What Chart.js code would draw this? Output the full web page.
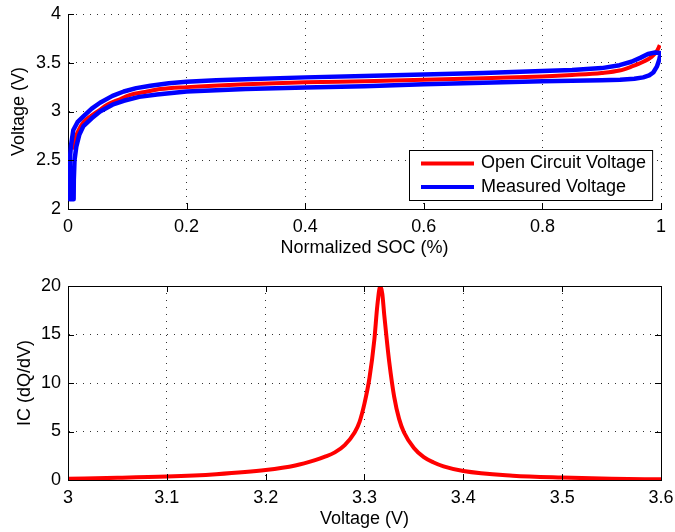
<!DOCTYPE html>
<html>
<head>
<meta charset="utf-8">
<script src="https://cdn.jsdelivr.net/npm/chart.js@4/dist/chart.umd.min.js"></script>
<style>
  body { margin: 0; background: #fff; }
  .box { position: absolute; left: 0; width: 675px; }
</style>
</head>
<body>
<div class="box" style="top:0;height:260px"><canvas id="socChart" width="675" height="260"></canvas></div>
<div class="box" style="top:260px;height:272px"><canvas id="icChart" width="675" height="272"></canvas></div>
<script>
// top plot: OCV and measured voltage vs normalized SOC
const ocvSoc  = [0.008, 0.012, 0.018, 0.026, 0.038, 0.052, 0.066, 0.085, 0.105, 0.13, 0.156, 0.2, 0.3, 0.4, 0.5, 0.6, 0.7, 0.8, 0.85, 0.9, 0.93, 0.95, 0.97, 0.984, 0.993, 0.998];
const ocvVolt = [2.61, 2.72, 2.81, 2.89, 2.95, 3.01, 3.07, 3.12, 3.17, 3.20, 3.23, 3.25, 3.28, 3.30, 3.31, 3.325, 3.34, 3.36, 3.375, 3.395, 3.42, 3.46, 3.51, 3.56, 3.62, 3.68];

// measured voltage loop: upper branch left->right, then lower branch right->left
const measSoc  = [0.003, 0.003, 0.005, 0.009, 0.016, 0.026, 0.04, 0.054, 0.075, 0.094, 0.115, 0.139, 0.17, 0.2, 0.25, 0.3, 0.4, 0.5, 0.6, 0.7, 0.8, 0.85, 0.9, 0.93, 0.95, 0.965, 0.978, 0.99, 0.998,
                  0.999, 0.997, 0.993, 0.987, 0.98, 0.97, 0.955, 0.931, 0.9, 0.8, 0.7, 0.6, 0.5, 0.4, 0.3, 0.2, 0.15, 0.12, 0.094, 0.075, 0.054, 0.04, 0.026, 0.019, 0.014, 0.011, 0.0098, 0.0095, 0.003];
const measVolt = [2.1, 2.5, 2.65, 2.81, 2.89, 2.95, 3.03, 3.09, 3.16, 3.205, 3.24, 3.265, 3.29, 3.305, 3.32, 3.33, 3.35, 3.365, 3.38, 3.395, 3.415, 3.425, 3.445, 3.475, 3.51, 3.55, 3.59, 3.605, 3.6,
                  3.59, 3.53, 3.46, 3.40, 3.37, 3.35, 3.335, 3.325, 3.32, 3.31, 3.295, 3.28, 3.26, 3.245, 3.23, 3.205, 3.175, 3.15, 3.11, 3.07, 3.0, 2.93, 2.85, 2.76, 2.64, 2.5, 2.3, 2.1, 2.1];

// bottom plot: incremental capacity
const icVolt = [3.0, 3.05, 3.1, 3.15, 3.2, 3.23, 3.25, 3.26, 3.27, 3.28, 3.29, 3.295, 3.3, 3.305, 3.31, 3.313, 3.316, 3.318, 3.32, 3.3225, 3.325, 3.33, 3.335, 3.34, 3.35, 3.36, 3.37, 3.38, 3.4, 3.45, 3.5, 3.55, 3.6];
const icVal  = [0.14, 0.22, 0.35, 0.6, 1.03, 1.5, 2.05, 2.4, 2.85, 3.6, 4.9, 6.0, 7.9, 10.5, 14.5, 18.0, 20, 19.2, 17, 14.5, 12.2, 8.6, 6.3, 4.9, 3.3, 2.35, 1.8, 1.4, 0.92, 0.45, 0.25, 0.13, 0.07];

const socTicks  = [0, 0.2, 0.4, 0.6, 0.8, 1];
const voltTicks = [2, 2.5, 3, 3.5, 4];
const icXTicks  = [3, 3.1, 3.2, 3.3, 3.4, 3.5, 3.6];
const icYTicks  = [0, 5, 10, 15, 20];

Chart.defaults.font.family = '"Liberation Sans", Arial, Helvetica, sans-serif';
Chart.defaults.font.size = 18;
Chart.defaults.color = '#000';

const pts = (xs, ys) => xs.map((x, i) => ({ x: x, y: ys[i] }));

// inward tick marks (and optional box) like matlab axes
const frame = {
  id: 'frame',
  afterDatasetsDraw(chart, args, opts) {
    const { ctx, chartArea: a } = chart;
    const sx = chart.scales.x, sy = chart.scales.y;
    ctx.save();
    ctx.strokeStyle = '#000';
    ctx.lineWidth = 1;
    ctx.beginPath();
    sx.ticks.forEach(t => {
      const p = Math.round(sx.getPixelForValue(t.value)) + 0.5;
      ctx.moveTo(p, a.bottom); ctx.lineTo(p, a.bottom - 6);
      if (opts.box) { ctx.moveTo(p, a.top); ctx.lineTo(p, a.top + 6); }
    });
    sy.ticks.forEach(t => {
      const p = Math.round(sy.getPixelForValue(t.value)) + 0.5;
      ctx.moveTo(a.left, p); ctx.lineTo(a.left + 6, p);
      if (opts.box) { ctx.moveTo(a.right, p); ctx.lineTo(a.right - 6, p); }
    });
    ctx.stroke();
    if (opts.box) {
      ctx.strokeRect(Math.round(a.left) + 0.5, Math.round(a.top) + 0.5, Math.round(a.right - a.left), Math.round(a.bottom - a.top));
    }
    ctx.restore();
  }
};

// legend box in the lower right corner of the plot
const cornerLegend = {
  id: 'cornerLegend',
  afterDraw(chart, args, opts) {
    if (!opts.show) return;
    const { ctx, chartArea: a } = chart;
    const sets = chart.data.datasets;
    ctx.save();
    ctx.font = '18px ' + Chart.defaults.font.family;
    const tw = Math.max(...sets.map(d => ctx.measureText(d.label).width));
    const w = 72 + tw + 6, h = 50;
    const left = Math.round(a.right - 9 - w), top = Math.round(a.bottom - 9 - h);
    ctx.fillStyle = '#fff';
    ctx.fillRect(left, top, w, h);
    ctx.strokeStyle = '#000';
    ctx.lineWidth = 1;
    ctx.strokeRect(left + 0.5, top + 0.5, w, h);
    sets.forEach((d, i) => {
      const yy = top + 13.5 + i * 23.5;
      ctx.strokeStyle = d.borderColor;
      ctx.lineWidth = 4;
      ctx.beginPath();
      ctx.moveTo(left + 12, yy); ctx.lineTo(left + 65, yy);
      ctx.stroke();
      ctx.fillStyle = '#000';
      ctx.textBaseline = 'middle';
      ctx.fillText(d.label, left + 72, yy);
    });
    ctx.restore();
  }
};

// drop chart.js' extra room for the end tick labels so the plot box keeps its size
function noLabelRoom(s) {
  s.paddingLeft = 0; s.paddingRight = 0; s.paddingTop = 0; s.paddingBottom = 0;
}

function axis(min, max, tickList, title, titlePad, size) {
  return {
    type: 'linear',
    min: min,
    max: max,
    afterBuildTicks: s => { s.ticks = tickList.map(v => ({ value: v })); },
    afterFit: s => {
      noLabelRoom(s);
      if (s.isHorizontal()) s.height = size; else s.width = size;
    },
    ticks: { callback: v => String(v), padding: 7, autoSkip: false, maxRotation: 0 },
    grid: { color: '#333', lineWidth: 1, drawTicks: false },
    border: { display: true, color: '#000', width: 1, dash: [1, 6] },
    title: { display: true, text: title, padding: titlePad, font: { size: 18 } }
  };
}

new Chart(document.getElementById('socChart'), {
  type: 'scatter',
  data: {
    datasets: [
      { label: 'Open Circuit Voltage', data: pts(ocvSoc, ocvVolt), showLine: true, borderColor: '#ff0000', borderWidth: 4,
        pointRadius: 0, cubicInterpolationMode: 'monotone', order: 1 },
      { label: 'Measured Voltage', data: pts(measSoc, measVolt), showLine: true, borderColor: '#0000ff', borderWidth: 4.5,
        pointRadius: 0, tension: 0, borderJoinStyle: 'round', borderCapStyle: 'round', order: 0 }
    ]
  },
  options: {
    responsive: false,
    devicePixelRatio: 1,
    animation: false,
    layout: { padding: { left: 0, top: 14, right: 14, bottom: 0 } },
    plugins: { legend: { display: false }, tooltip: { enabled: false }, frame: { box: false }, cornerLegend: { show: true } },
    scales: {
      x: axis(0, 1, socTicks, 'Normalized SOC (%)', { top: 0, bottom: 1 }, 51),
      y: axis(2, 4, voltTicks, 'Voltage (V)', { top: 8, bottom: 0 }, 68)
    }
  },
  plugins: [frame, cornerLegend]
});

new Chart(document.getElementById('icChart'), {
  type: 'scatter',
  data: {
    datasets: [
      { label: 'IC', data: pts(icVolt, icVal), showLine: true, borderColor: '#ff0000', borderWidth: 4,
        pointRadius: 0, cubicInterpolationMode: 'monotone' }
    ]
  },
  options: {
    responsive: false,
    devicePixelRatio: 1,
    animation: false,
    layout: { padding: { left: 0, top: 26, right: 14, bottom: 0 } },
    plugins: { legend: { display: false }, tooltip: { enabled: false }, frame: { box: true }, cornerLegend: { show: false } },
    scales: {
      x: axis(3, 3.6, icXTicks, 'Voltage (V)', { top: 0, bottom: 2 }, 52),
      y: axis(0, 20, icYTicks, 'IC (dQ/dV)', { top: 14, bottom: 0 }, 68)
    }
  },
  plugins: [frame, cornerLegend]
});
</script>
</body>
</html>
